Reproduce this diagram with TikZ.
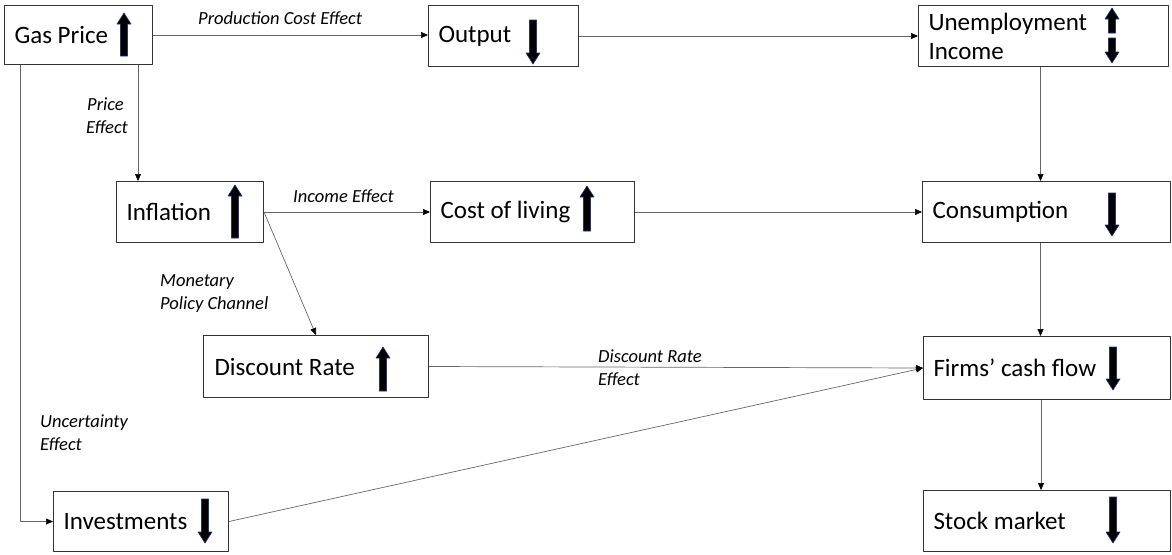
\documentclass[tikz,border=0pt]{standalone}
\usepackage{fontspec}
\setmainfont{Carlito}
\usepackage{xcolor}
\usetikzlibrary{arrows.meta}
\definecolor{edgeblue}{RGB}{35,55,115}
\tikzstyle{box} = [draw=black!80, line width=1pt, rectangle, anchor=north west, inner xsep=10pt, inner ysep=0pt, align=flush left, font=\fontsize{25}{27}\selectfont]
\tikzstyle{lbl} = [anchor=west, align=flush left, inner sep=0pt, font=\fontsize{18.5}{23}\selectfont\itshape]
\tikzstyle{conn} = [draw=black!60, line width=0.7pt, -{Triangle[length=7pt,width=6pt,color=black]}]
\tikzstyle{blk} = [fill=black, draw=edgeblue, line width=0.6pt]
% block arrows: x, top, bottom
\newcommand{\blkup}[3]{\filldraw[blk] (#1-3.5,#3) -- (#1-3.5,#2+11) -- (#1-7,#2+11) -- (#1,#2) -- (#1+7,#2+11) -- (#1+3.5,#2+11) -- (#1+3.5,#3) -- cycle;}
\newcommand{\blkdown}[3]{\filldraw[blk] (#1-3.5,#2) -- (#1-3.5,#3-11) -- (#1-7,#3-11) -- (#1,#3) -- (#1+7,#3-11) -- (#1+3.5,#3-11) -- (#1+3.5,#2) -- cycle;}

\begin{document}
\begin{tikzpicture}[x=1pt,y=-1pt,line join=round]
                \useasboundingbox (0,0) rectangle (1172,554);
                % boxes
                \node[box, minimum width=148, minimum height=59, text width=128] (gas) at (4,5) {Gas Price};
                \node[box, minimum width=150, minimum height=61, text width=130] (output) at (428,5) {Output};
                \node[box, minimum width=250, minimum height=61, text width=230, font=\fontsize{25}{29}\selectfont] (unemp) at (918,5) {Unemployment\\Income};
                \node[box, minimum width=147, minimum height=61, text width=127] (infl) at (116,181) {Inflation};
                \node[box, minimum width=204, minimum height=61, text width=184] (cost) at (430,181) {Cost of living};
                \node[box, minimum width=248, minimum height=61, text width=228] (cons) at (922,181) {Consumption};
                \node[box, minimum width=225, minimum height=62, text width=203, inner xsep=11pt] (disc) at (203,335) {Discount Rate};
                \node[box, minimum width=247, minimum height=63, text width=227] (firms) at (923,336) {Firms’ cash flow};
                \node[box, minimum width=175, minimum height=60, text width=155] (invest) at (53,491) {Investments};
                \node[box, minimum width=247, minimum height=61, text width=227] (stock) at (923,490) {Stock market};
                % up and down arrows
                \blkup{124}{13}{56}
                \blkdown{533}{20}{64}
                \blkup{1112}{8}{33}
                \blkdown{1112}{38}{63}
                \blkup{235}{185}{238}
                \blkup{587}{186}{231}
                \blkdown{1112}{193}{236}
                \blkup{383}{347}{391}
                \blkdown{1113}{347}{390}
                \blkdown{205}{499}{543}
                \blkdown{1113}{497}{543}
                % connectors
                \draw[conn] (gas.east) -- (gas.east -| output.west);
                \draw[conn] (output.east) -- (output.east -| unemp.west);
                \draw[conn] ([xshift=-3]unemp.south) -- ([xshift=-3]unemp.south |- cons.north);
                \draw[conn] ([xshift=-15]gas.south east) -- ([xshift=-15]gas.south east |- infl.north);
                \draw[conn] ([xshift=16]gas.south west) |- (invest.west);
                \draw[conn] (infl.east) -- (infl.east -| cost.west);
                \draw[conn] (infl.east) -- (disc.north);
                \draw[conn] (cost.east) -- (cost.east -| cons.west);
                \draw[conn] ([xshift=-6]cons.south) -- ([xshift=-6]cons.south |- firms.north);
                \draw[conn] (disc.east) -- (firms.west);
                \draw[conn] (invest.east) -- (firms.west);
                \draw[conn] ([xshift=-6]firms.south) -- ([xshift=-6]firms.south |- stock.north);
                % labels
                \node[lbl] (pce) at (198,18) {Production Cost Effect};
                \node[lbl] (pe) at (86,116) {\hspace*{1pt}Price\\Effect};
                \node[lbl] (ie) at (293,196) {Income Effect};
                \node[lbl] (mpc) at (160,294) {Monetary\\Policy Channel};
                \node[lbl] (dre) at (598,368) {Discount Rate\\Effect};
                \node[lbl] (ue) at (40,433) {Uncertainty\\Effect};
            \end{tikzpicture}
\end{document}
